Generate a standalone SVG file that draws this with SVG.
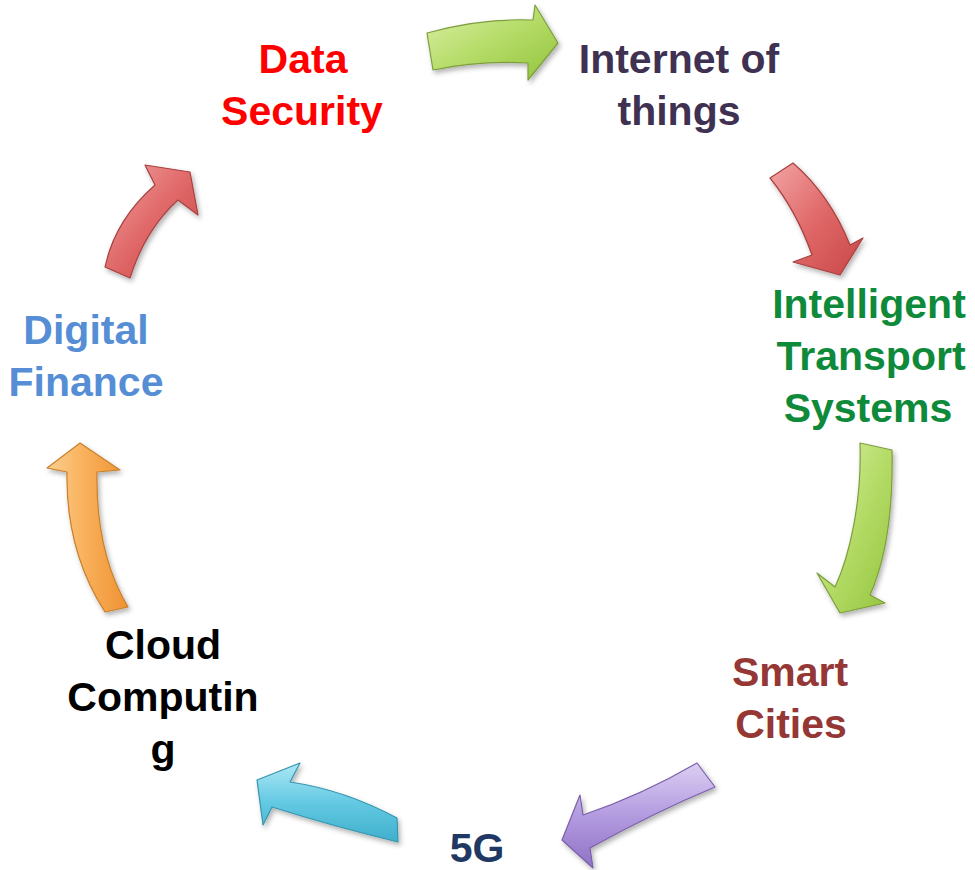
<svg xmlns="http://www.w3.org/2000/svg" width="975" height="870" viewBox="0 0 975 870">
<style>
text{font-family:"Liberation Sans",Arial,sans-serif;font-weight:bold;font-size:41px;text-anchor:middle}
.arrow{stroke-width:1.2;stroke-linejoin:round;filter:url(#sh)}
</style>
<defs>
<filter id="sh" x="-30%" y="-30%" width="160%" height="160%">
<feDropShadow dx="2" dy="3" stdDeviation="2.5" flood-color="#000" flood-opacity="0.3"/>
</filter>
<linearGradient id="gGreen" x1="0" y1="0" x2="1" y2="1"><stop offset="0" stop-color="#DDF0A8"/><stop offset="0.5" stop-color="#B5DC68"/><stop offset="1" stop-color="#93C43C"/></linearGradient>
<linearGradient id="gRed" x1="0" y1="0" x2="1" y2="1"><stop offset="0" stop-color="#F2A4A4"/><stop offset="0.5" stop-color="#E06868"/><stop offset="1" stop-color="#C94646"/></linearGradient>
<linearGradient id="gPurple" x1="0" y1="0" x2="0" y2="1"><stop offset="0" stop-color="#DCCEF2"/><stop offset="0.5" stop-color="#B39BE0"/><stop offset="1" stop-color="#8F72C6"/></linearGradient>
<linearGradient id="gCyan" x1="0" y1="0" x2="0" y2="1"><stop offset="0" stop-color="#AEE8F5"/><stop offset="0.5" stop-color="#63C9E3"/><stop offset="1" stop-color="#3FAFCC"/></linearGradient>
<linearGradient id="gOrange" x1="0" y1="0" x2="1" y2="0"><stop offset="0" stop-color="#FCD08E"/><stop offset="0.5" stop-color="#F9AE58"/><stop offset="1" stop-color="#EE9233"/></linearGradient>
</defs>
<g id="connectors">
<path class="arrow" d="M427,33 Q480,18 533,20 L535,5 L558,43 L528,80 L528,63 Q480,60 433,70 Z" fill="url(#gGreen)" stroke="#7E9E3E"/>
<path class="arrow" d="M770,178 L793,163 Q830,195 850,245 L863,238 L840,275 L793,262 L812,255 Q796,210 770,178 Z" fill="url(#gRed)" stroke="#A84040"/>
<path class="arrow" d="M860,443 L892,450 C893,500 888,555 870,595 L885,603 L840,613 L817,573 L835,587 C850,555 862,500 860,443 Z" fill="url(#gGreen)" stroke="#7E9E3E"/>
<path class="arrow" d="M697,763 L715,787 Q655,812 590,848 L593,868 L562,840 L580,795 L583,815 Q642,795 697,763 Z" fill="url(#gPurple)" stroke="#7A60AA"/>
<path class="arrow" d="M397,818 L398,842 Q332,826 272,807 L263,825 L257,780 L300,763 L290,782 Q345,790 397,818 Z" fill="url(#gCyan)" stroke="#3596AE"/>
<path class="arrow" d="M128,607 L105,612 C78,570 66,525 67,472 L47,468 L80,443 L120,470 L97,472 C96,525 106,570 128,607 Z" fill="url(#gOrange)" stroke="#C8802C"/>
<path class="arrow" d="M105,267 L130,278 Q145,230 178,200 L198,215 L190,172 L145,165 L155,185 Q115,220 105,267 Z" fill="url(#gRed)" stroke="#A84040"/>
</g>
<g id="data-security" fill="#FF0000"><text x="303" y="73">Data</text><text x="302" y="125">Security</text></g>
<g id="internet-of-things" fill="#3F3151"><text x="679" y="73">Internet of</text><text x="679" y="125">things</text></g>
<g id="intelligent-transport" fill="#0E8A3A"><text x="869" y="318">Intelligent</text><text x="871" y="370">Transport</text><text x="868" y="422">Systems</text></g>
<g id="smart-cities" fill="#953735"><text x="790" y="686">Smart</text><text x="791" y="738">Cities</text></g>
<g id="five-g" fill="#1F3864"><text x="477" y="862">5G</text></g>
<g id="cloud-computing" fill="#000000"><text x="163" y="659">Cloud</text><text x="163" y="711">Computin</text><text x="163" y="763">g</text></g>
<g id="digital-finance" fill="#558ED5"><text x="86" y="344">Digital</text><text x="86" y="396">Finance</text></g>
</svg>
